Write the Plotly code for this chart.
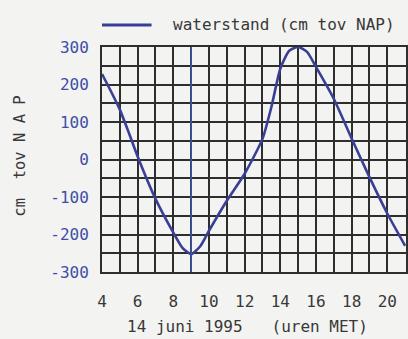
import plotly.graph_objects as go

# ---- data ----
hours = [4, 4.5, 5, 5.5, 6, 7, 8, 8.5, 9, 9.5, 10, 11, 12, 13, 13.5, 14, 14.5, 15, 15.5, 16, 17, 18, 19, 20, 21]
waterstand = [228, 182, 133, 72, 8, -105, -195, -235, -252, -232, -190, -110, -38, 55, 140, 242, 290, 300, 287, 247, 162, 56, -47, -144, -230]
low_water_hour = 9
x_ticks = [4, 6, 8, 10, 12, 14, 16, 18, 20]
y_ticks = [-300, -200, -100, 0, 100, 200, 300]
series_name = "waterstand (cm tov NAP)"
x_title = "14 juni 1995   (uren MET)"
y_title = "cm  tov N A P"

FONT = "DejaVu Sans Mono"
BG = "#f3f3f1"
GRID = "#2e2e2e"
CURVE = "#3a3f96"
BLUE_TXT = "#3e4ea8"
TXT = "#383838"

fig = go.Figure()
fig.add_trace(go.Scatter(
    x=hours, y=waterstand, mode="lines", name=series_name,
    line=dict(color=CURVE, width=2.6, shape="spline", smoothing=0.6),
    showlegend=False,
))

# vertical marker at low water
fig.add_shape(type="line", xref="x", yref="y",
              x0=low_water_hour, x1=low_water_hour, y0=-300, y1=300,
              line=dict(color="#3d55a0", width=1.6), layer="above")

# legend drawn manually
fig.add_shape(type="line", xref="paper", yref="paper",
              x0=0.0, x1=0.163, y0=1.098, y1=1.098,
              line=dict(color=CURVE, width=3))
fig.add_annotation(xref="paper", yref="paper", x=0.228, y=1.098,
                   text=series_name, showarrow=False, xanchor="left", yanchor="middle",
                   font=dict(family=FONT, size=16, color=TXT))

# axis titles
fig.add_annotation(xref="paper", yref="paper", x=0.48, y=-0.24,
                   text=x_title, showarrow=False, xanchor="center", yanchor="middle",
                   font=dict(family=FONT, size=16, color=TXT))
fig.add_annotation(xref="paper", yref="paper", x=-0.268, y=0.515,
                   text=y_title, showarrow=False, textangle=-90,
                   xanchor="center", yanchor="middle",
                   font=dict(family=FONT, size=15.5, color=TXT))

fig.update_layout(
    width=408, height=339,
    margin=dict(l=102, r=0, t=47, b=67),
    paper_bgcolor=BG, plot_bgcolor=BG,
    font=dict(family=FONT, size=16, color=TXT),
    xaxis=dict(
        range=[4, 21.05], tickvals=x_ticks, ticktext=[str(v) for v in x_ticks],
        showgrid=True, gridcolor=GRID, gridwidth=2,
        minor=dict(dtick=1, tick0=4, showgrid=True, gridcolor=GRID, gridwidth=2),
        showline=True, linecolor=GRID, linewidth=2, mirror=True,
        zeroline=False, ticks="", ticklabelstandoff=14,
        tickfont=dict(family=FONT, size=16, color=TXT),
    ),
    yaxis=dict(
        range=[-300, 300], tickvals=y_ticks, ticktext=[str(v) for v in y_ticks],
        showgrid=True, gridcolor=GRID, gridwidth=2,
        minor=dict(dtick=50, tick0=-300, showgrid=True, gridcolor=GRID, gridwidth=2),
        showline=True, linecolor=GRID, linewidth=2, mirror=True,
        zeroline=False, ticks="", ticklabelstandoff=8,
        tickfont=dict(family=FONT, size=16, color=BLUE_TXT),
    ),
)

fig.write_html(
    "out.html",
    config={"displayModeBar": False},
    post_script="document.body.style.margin='0';document.body.style.background='%s';"
                "document.documentElement.style.overflow='hidden';" % BG,
)
